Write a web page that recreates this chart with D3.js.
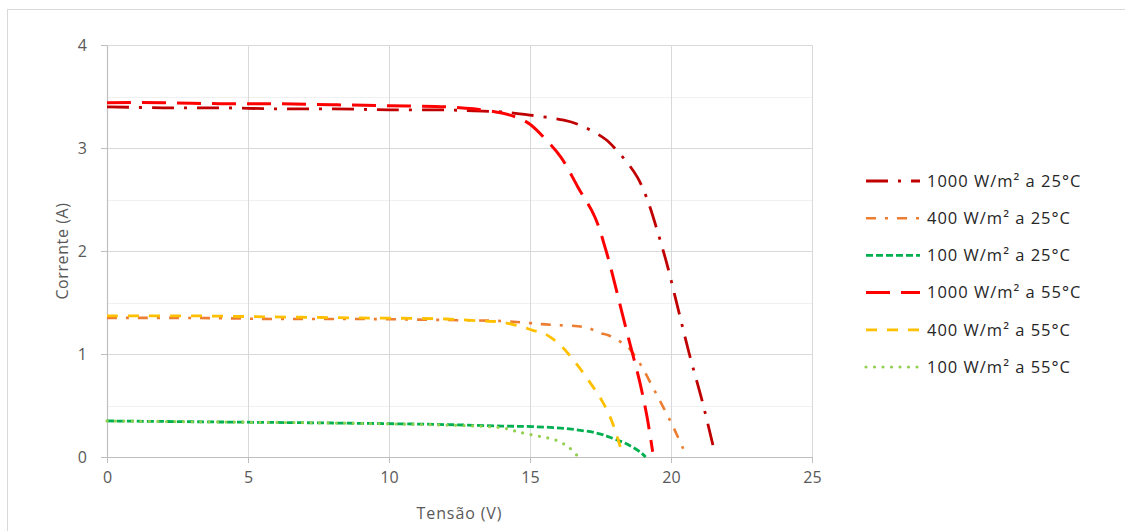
<!DOCTYPE html>
<html>
<head>
<meta charset="utf-8">
<script src="https://cdn.jsdelivr.net/npm/d3@7"></script>
<style>
  html, body { margin: 0; padding: 0; background: #fff; }
  svg { display: block; }
  text { font-family: "Open Sans", "Noto Sans", sans-serif; }
</style>
</head>
<body>
<svg id="chart" width="1125" height="531"></svg>
<script>
// I-V curves of a PV module for three irradiance levels at two cell temperatures
const seriesNames = [
  "1000 W/m² a 25°C",
  "400 W/m² a 25°C",
  "100 W/m² a 25°C",
  "1000 W/m² a 55°C",
  "400 W/m² a 55°C",
  "100 W/m² a 55°C"
];

// voltage (V) / current (A) samples per curve
const v1000_25 = [0, 2, 4, 6, 8, 10, 12, 13, 14, 15, 16.2, 16.7, 17.3, 17.7, 18.0, 18.5, 18.8, 19.0, 19.25, 19.5, 19.85, 20.25, 20.65, 21.1, 21.5];
const i1000_25 = [3.40, 3.39, 3.39, 3.38, 3.38, 3.37, 3.37, 3.36, 3.35, 3.32, 3.27, 3.23, 3.15, 3.08, 3.00, 2.84, 2.72, 2.61, 2.43, 2.21, 1.88, 1.44, 1.00, 0.55, 0.10];

const v400_25 = [0, 3, 6, 9, 12, 14, 15, 15.4, 16, 16.7, 17.1, 17.4, 17.8, 18.2, 18.5, 18.75, 19.0, 19.35, 19.6, 19.9, 20.1, 20.45];
const i400_25 = [1.35, 1.35, 1.34, 1.34, 1.33, 1.32, 1.30, 1.29, 1.28, 1.27, 1.25, 1.21, 1.18, 1.12, 1.06, 0.97, 0.86, 0.68, 0.55, 0.39, 0.28, 0.07];

const v100_25 = [0, 4, 8, 12, 14, 15.1, 16.3, 17.4, 17.95, 18.4, 18.9, 19.1];
const i100_25 = [0.35, 0.34, 0.33, 0.315, 0.30, 0.295, 0.275, 0.23, 0.18, 0.13, 0.05, 0.0];

const v1000_55 = [0, 2, 4, 6, 8, 10, 12, 13, 14, 14.6, 15, 15.5, 16.1, 16.7, 17.3, 17.7, 18.0, 18.3, 18.6, 18.9, 19.15, 19.35];
const i1000_55 = [3.44, 3.44, 3.43, 3.43, 3.42, 3.41, 3.40, 3.38, 3.34, 3.29, 3.23, 3.10, 2.91, 2.62, 2.33, 2.00, 1.69, 1.36, 1.04, 0.72, 0.39, 0.05];

const v400_55 = [0, 3, 6, 9, 12, 13.3, 14, 14.75, 15.1, 15.5, 16.06, 16.6, 17.06, 17.5, 17.84, 18.1, 18.22];
const i400_55 = [1.37, 1.37, 1.36, 1.35, 1.34, 1.32, 1.31, 1.26, 1.23, 1.20, 1.09, 0.92, 0.75, 0.57, 0.39, 0.19, 0.08];

const v100_55 = [0, 4, 8, 12, 13.5, 14.1, 14.5, 14.8, 15.35, 15.9, 16.35, 16.65];
const i100_55 = [0.35, 0.34, 0.33, 0.31, 0.295, 0.28, 0.25, 0.23, 0.20, 0.165, 0.10, 0.02];

const xTicks = [0, 5, 10, 15, 20, 25];
const yTicks = [0, 1, 2, 3, 4];

const curves = [
  { name: seriesNames[0], v: v1000_25, i: i1000_25, color: "#C00000", dash: "22,10,3,10", width: 2.8 },
  { name: seriesNames[1], v: v400_25,  i: i400_25,  color: "#ED7D31", dash: "10,9,3,9",   width: 2.6 },
  { name: seriesNames[2], v: v100_25,  i: i100_25,  color: "#00B050", dash: "7,3",        width: 2.8 },
  { name: seriesNames[3], v: v1000_55, i: i1000_55, color: "#FF0000", dash: "24,11",      width: 3 },
  { name: seriesNames[4], v: v400_55,  i: i400_55,  color: "#FFC000", dash: "11,10",      width: 2.8 },
  { name: seriesNames[5], v: v100_55,  i: i100_55,  color: "#92D050", dash: "0,8.5",      width: 3.2, cap: "round" }
];

const svg = d3.select("#chart");

// outer chart frame
svg.append("rect")
  .attr("x", 7.5).attr("y", 9.5)
  .attr("width", 1130).attr("height", 530)
  .attr("fill", "#fff").attr("stroke", "#d9d9d9").attr("stroke-width", 1);

const plot = { left: 107, right: 812, top: 45, bottom: 457 };

const x = d3.scaleLinear().domain([0, 25]).range([plot.left, plot.right]);
const y = d3.scaleLinear().domain([0, 4]).range([plot.bottom, plot.top]);

// minor horizontal gridlines
const minor = d3.range(0.5, 4, 1);
svg.append("g").selectAll("line").data(minor).join("line")
  .attr("x1", plot.left).attr("x2", plot.right)
  .attr("y1", d => Math.round(y(d)) + 0.5).attr("y2", d => Math.round(y(d)) + 0.5)
  .attr("stroke", "#f0f0f0").attr("stroke-width", 1);

// major gridlines
svg.append("g").selectAll("line").data(yTicks.filter(d => d > 0)).join("line")
  .attr("x1", plot.left).attr("x2", plot.right)
  .attr("y1", d => Math.round(y(d)) + 0.5).attr("y2", d => Math.round(y(d)) + 0.5)
  .attr("stroke", "#d9d9d9").attr("stroke-width", 1);
svg.append("g").selectAll("line").data(xTicks.filter(d => d > 0)).join("line")
  .attr("x1", d => Math.round(x(d)) + 0.5).attr("x2", d => Math.round(x(d)) + 0.5)
  .attr("y1", plot.top).attr("y2", plot.bottom)
  .attr("stroke", "#d9d9d9").attr("stroke-width", 1);

// axes
const xAxis = svg.append("g")
  .attr("transform", `translate(0,${plot.bottom})`)
  .call(d3.axisBottom(x).tickValues(xTicks).tickFormat(d3.format("d"))
    .tickSize(6).tickPadding(9).tickSizeOuter(0));
const yAxis = svg.append("g")
  .attr("transform", `translate(${plot.left},0)`)
  .call(d3.axisLeft(y).tickValues(yTicks).tickFormat(d3.format("d"))
    .tickSize(6).tickPadding(14).tickSizeOuter(0));

[xAxis, yAxis].forEach(g => {
  g.select(".domain").attr("stroke", "#bfbfbf").attr("stroke-width", 1.2);
  g.selectAll(".tick line").attr("stroke", "#bfbfbf");
  g.selectAll(".tick text")
    .attr("fill", "#595959")
    .style("font-size", "16px")
    .style("font-family", "'Open Sans', sans-serif");
});

// axis titles
svg.append("text")
  .attr("x", (plot.left + plot.right) / 2).attr("y", 519)
  .attr("text-anchor", "middle")
  .attr("fill", "#595959").style("font-size", "16px").style("letter-spacing", "0.9px")
  .text("Tensão (V)");
svg.append("text")
  .attr("transform", `translate(68,${(plot.top + plot.bottom) / 2}) rotate(-90)`)
  .attr("text-anchor", "middle")
  .attr("fill", "#595959").style("font-size", "16px").style("letter-spacing", "0.6px")
  .text("Corrente (A)");

// smoothed curves through the measured points
const line = d3.line()
  .x(d => x(d[0]))
  .y(d => y(d[1]))
  .curve(d3.curveCatmullRom.alpha(0.5));

svg.append("g").selectAll("path").data(curves).join("path")
  .attr("d", c => line(c.v.map((v, k) => [v, c.i[k]])))
  .attr("fill", "none")
  .attr("stroke", c => c.color)
  .attr("stroke-width", c => c.width)
  .attr("stroke-dasharray", c => c.dash)
  .attr("stroke-linecap", c => c.cap || "butt")
  .attr("stroke-linejoin", "round");

// legend
const legend = svg.append("g");
const rowY = d3.scalePoint().domain(seriesNames).range([181, 367]);
const rows = legend.selectAll("g").data(curves).join("g")
  .attr("transform", c => `translate(0,${rowY(c.name)})`);
rows.append("line")
  .attr("x1", 866).attr("x2", 920).attr("y1", 0).attr("y2", 0)
  .attr("stroke", c => c.color)
  .attr("stroke-width", c => c.width)
  .attr("stroke-dasharray", c => c.dash)
  .attr("stroke-linecap", c => c.cap || "butt");
rows.append("text")
  .attr("x", 927).attr("y", 0).attr("dy", "0.35em")
  .attr("fill", "#262626").style("font-size", "16.5px").style("letter-spacing", "1px")
  .text(c => c.name);
</script>
</body>
</html>
